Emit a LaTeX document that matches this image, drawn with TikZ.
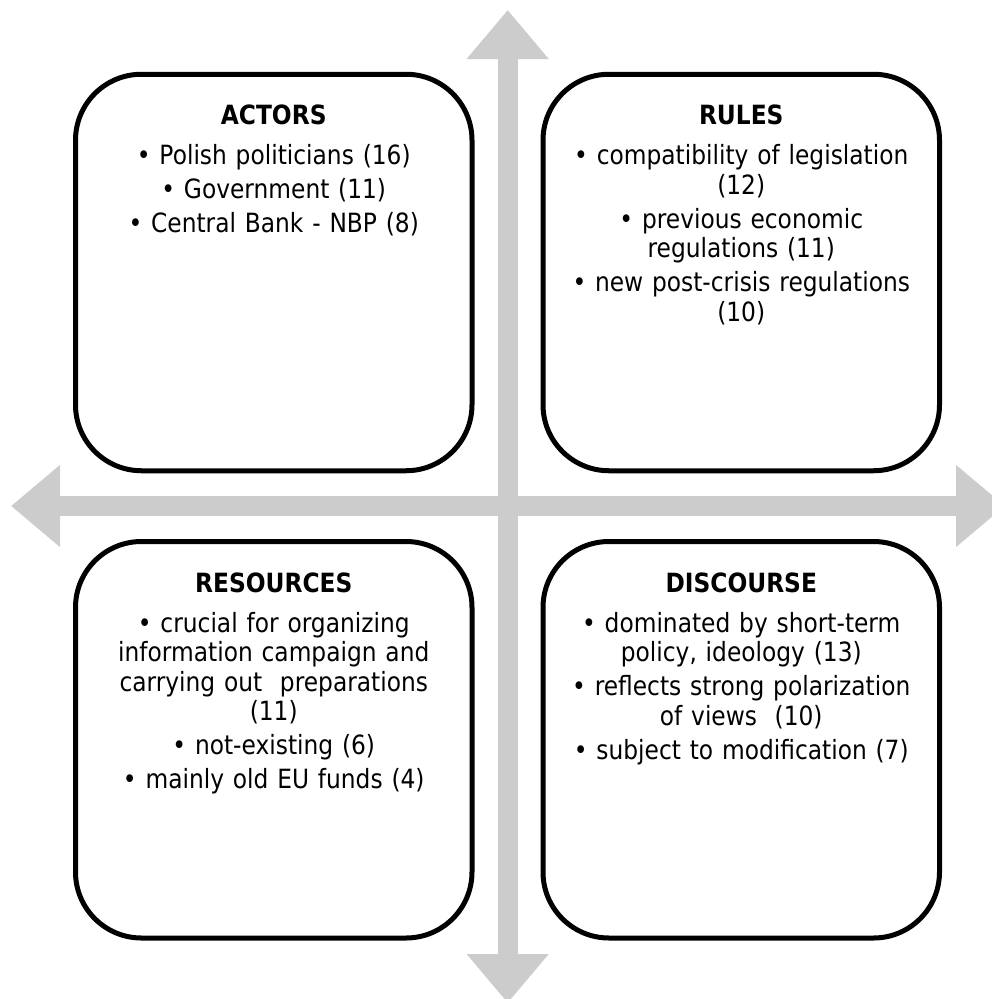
\documentclass[tikz,border=0pt]{standalone}
\usepackage{fontspec}
\setmainfont{DejaVu Sans}[FakeStretch=0.88]
\usepackage{tikz}
\usetikzlibrary{positioning,arrows.meta,calc}
\definecolor{cAxis}{RGB}{204,204,204}
\tikzset{
  quad/.style  = {draw=black, line width=5pt, rounded corners=66pt,
                  fill=white, minimum width=396.5pt, minimum height=396.5pt,
                  inner sep=0pt, outer sep=0pt},
  qhead/.style = {font=\fontsize{26.5}{29.5}\selectfont\bfseries,
                  anchor=base, inner sep=0pt},
  qlist/.style = {font=\fontsize{26.5}{29.5}\selectfont, align=center,
                  text width=380pt, anchor=base, inner sep=0pt},
  axis/.style  = {cAxis, line width=20pt,
                  {Triangle[width=79pt,length=49pt]}-{Triangle[width=79pt,length=49pt]}},
}

\begin{document}
\begin{tikzpicture}[x=1pt, y=-1pt]
  \clip (0,0) rectangle (992,999);

  % ---- grey cross behind the quadrants -------------------------------
  \coordinate (top)    at (507.7,10);
  \coordinate (bottom) at (507.7,1003);
  \coordinate (left)   at (11,506);
  \coordinate (right)  at (1005,506);
  \draw[axis] (bottom) -- (top);
  \draw[axis] (left) -- (right);

  % ---- the four quadrants ---------------------------------------------
  \node[quad] (act) at (273.75,272.5)  {};
  \node[quad] (rul) at (741.25,272.5)  {};
  \node[quad] (res) at (273.75,739.75) {};
  \node[quad] (dis) at (741.25,739.75) {};

  \foreach \q/\t in {act/ACTORS, rul/RULES, res/RESOURCES, dis/DISCOURSE}
    \node[qhead] (\q-h) at ($(\q.north)+(0,50.5)$) {\t};

  % ---- bullet lists, first baseline 40 below the heading --------------
  \node[qlist] (act-l) at ($(act-h.base)+(0,40)$)
    {• Polish politicians (16)\\[4.5pt]
     • Government (11)\\[4.5pt]
     • Central Bank - NBP (8)};
  \node[qlist] (rul-l) at ($(rul-h.base)+(0,40)$)
    {• compatibility of legislation\\(12)\\[4.5pt]
     • previous economic\\regulations (11)\\[4.5pt]
     • new post-crisis regulations\\(10)};
  \node[qlist] (res-l) at ($(res-h.base)+(0,40)$)
    {• crucial for organizing\\information campaign and\\
     carrying out~ preparations\\(11)\\[4.5pt]
     • not-existing (6)\\[4.5pt]
     • mainly old EU funds (4)};
  \node[qlist] (dis-l) at ($(dis-h.base)+(0,40)$)
    {• dominated by short-term\\policy, ideology (13)\\[4.5pt]
     • reflects strong polarization\\of views~ (10)\\[4.5pt]
     • subject to modification (7)};

\end{tikzpicture}
\end{document}
